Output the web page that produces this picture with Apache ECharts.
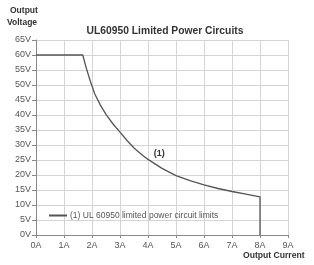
<!DOCTYPE html>
<html><head><meta charset="utf-8">
<script src="https://cdn.jsdelivr.net/npm/echarts@6/dist/echarts.min.js"></script>
<style>html,body{margin:0;padding:0;background:#fff}#c{width:314px;height:265px}</style>
</head><body><div id="c"></div>
<script>
var current = [0, 1.67, 1.8, 1.95, 2.1, 2.3, 2.5, 2.75, 3.0, 3.25, 3.5, 3.75, 4.0, 4.5, 5.0, 5.5, 6.0, 6.5, 7.0, 7.5, 8.0, 8.0];
var voltage = [60, 60, 55.5, 51, 47, 43.3, 40.2, 37, 34.3, 31.5, 29, 27, 25.2, 22.2, 19.8, 18.1, 16.7, 15.5, 14.5, 13.6, 12.7, 0];
var seriesName = '(1) UL 60950 limited power circuit limits';
var titleText = 'UL60950 Limited Power Circuits';
var data = current.map(function (c, i) { return [c, voltage[i]]; });
var chart = echarts.init(document.getElementById('c'));
var F = 'Liberation Sans, Arial, sans-serif';
chart.setOption({
  animation: false,
  title: { text: titleText, left: 160, textAlign: 'center', top: 21,
    textStyle: { fontFamily: F, fontSize: 10.3, fontWeight: 'bold', color: '#333' } },
  legend: { left: 44, top: 206, itemWidth: 18, itemHeight: 2, itemGap: 6,
    icon: 'rect', data: [seriesName],
    textStyle: { fontFamily: F, fontSize: 8.5, color: '#555', padding: [0,0,0,-2] } },
  grid: { left: 36, right: 26, top: 40, bottom: 30 },
  xAxis: { type: 'value', min: 0, max: 9, interval: 1,
    axisLine: { lineStyle: { color: '#888' } },
    axisTick: { show: true, length: 3, lineStyle: { color: '#888' } },
    axisLabel: { formatter: '{value}A', fontFamily: F, fontSize: 9, color: '#555', margin: 6 },
    splitLine: { lineStyle: { color: '#d4d4d4' } } },
  yAxis: { type: 'value', min: 0, max: 65, interval: 5,
    axisLine: { show: true, lineStyle: { color: '#888' } },
    axisTick: { show: true, length: 4, lineStyle: { color: '#888' } },
    axisLabel: { formatter: '{value}V', fontFamily: F, fontSize: 9, color: '#555', margin: 5 },
    splitLine: { lineStyle: { color: '#d4d4d4' } } },
  series: [{ name: seriesName, type: 'line', data: data, showSymbol: false,
    lineStyle: { color: '#555', width: 1.3 }, itemStyle: { color: '#555' },
    markPoint: { symbol: 'circle', symbolSize: 0,
      data: [{ coord: [4.4, 27.3], label: { show: true, formatter: '(1)', fontFamily: F, fontSize: 9, fontWeight: 'bold', color: '#333' } }] } }],
  graphic: [
    { type: 'text', left: 10, top: 6, style: { text: 'Output', fontFamily: F, fontSize: 8.5, fontWeight: 'bold', fill: '#333' } },
    { type: 'text', left: 7, top: 18, style: { text: 'Voltage', fontFamily: F, fontSize: 8.5, fontWeight: 'bold', fill: '#333' } },
    { type: 'text', left: 243, top: 251, style: { text: 'Output Current', fontFamily: F, fontSize: 8.6, fontWeight: 'bold', fill: '#333' } }
  ]
});
</script></body></html>
